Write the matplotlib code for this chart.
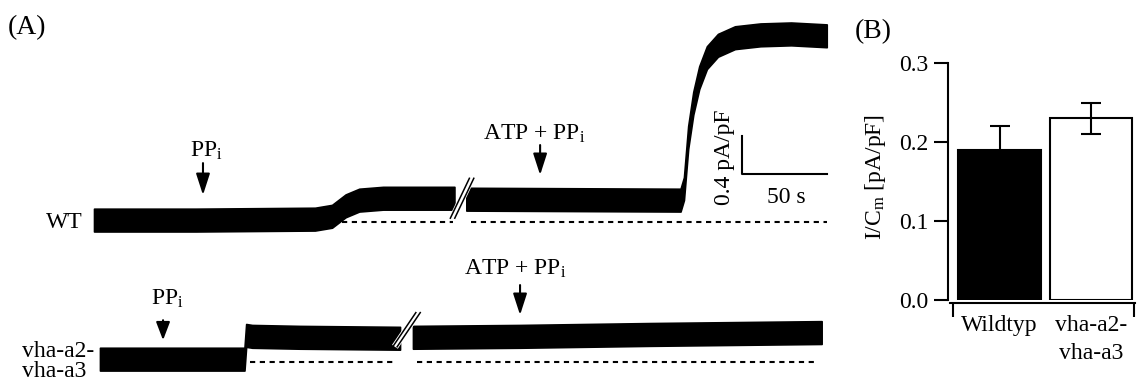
#----------------------------------------------------------------------------------------------------
# Make imports
#----------------------------------------------------------------------------------------------------
import matplotlib
matplotlib.use("Agg")
import matplotlib.pyplot as plt

plt.rcParams["font.family"] = "Liberation Serif"
plt.rcParams["mathtext.fontset"] = "custom"
plt.rcParams["mathtext.rm"] = "Liberation Serif"
plt.rcParams["mathtext.it"] = "Liberation Serif:italic"

#----------------------------------------------------------------------------------------------------
# Data (time in s, current density in pA/pF)
#----------------------------------------------------------------------------------------------------
# WT trace, before and after the break
wt_t1 = [0, 60, 130, 140, 148, 156, 170, 212]
wt_i1 = [0.02, 0.02, 0.03, 0.06, 0.17, 0.23, 0.25, 0.25]
wt_t2 = [219, 345, 347, 349.5, 352.5, 356, 360.5, 367, 377, 392, 410, 431]
wt_i2 = [0.24, 0.23, 0.35, 0.89, 1.25, 1.52, 1.73, 1.86, 1.94, 1.97, 1.98, 1.96]

# vha-a2-vha-a3 trace
mut_t1 = [3.5, 88.5, 89.5, 93, 121, 180]
mut_i1 = [0.03, 0.03, 0.28, 0.27, 0.26, 0.25]
mut_t2 = [187.6, 250.6, 327, 428]
mut_i2 = [0.26, 0.27, 0.29, 0.31]

noise = 0.12  # half width of the noise band

# zero-current dashed lines (start, end)
wt_zero = [(146, 211), (222, 431)]
mut_zero = [(92, 177), (190, 426)]

# break marks (t, I)
wt_break = (216.5, 0.25)
mut_break = (183.8, 0.34)

# application arrows: (time, label)
wt_events = [(64.1, "PP$_\\mathrm{i}$"), (262.4, "ATP + PP$_\\mathrm{i}$")]
mut_events = [(40.6, "PP$_\\mathrm{i}$"), (250.6, "ATP + PP$_\\mathrm{i}$")]

scale_t = 50
scale_i = 0.4

# panel B
groups = ["Wildtyp", "vha-a2-\nvha-a3"]
means = [0.19, 0.23]
errors = [0.03, 0.02]
bar_colors = ["black", "white"]

#----------------------------------------------------------------------------------------------------
# Figure
#----------------------------------------------------------------------------------------------------
fig = plt.figure(figsize=(11.38, 3.81), dpi=100)
fs = 17

xlim_a = (-55.3, 438.8)
ax_wt = fig.add_axes([0, 0, 840 / 1138, 1])
ax_wt.set_xlim(xlim_a)
ax_wt.set_ylim(-1.674, 2.337)
ax_wt.axis("off")

ax_mut = fig.add_axes([0, 0, 840 / 1138, 1])
ax_mut.set_xlim(xlim_a)
ax_mut.set_ylim(-0.2, 3.811)
ax_mut.axis("off")


def draw_trace(ax, t, i):
    lo = [v - noise for v in i]
    hi = [v + noise for v in i]
    ax.fill_between(t, lo, hi, color="black", lw=1.2, edgecolor="black")


def draw_break(ax, pos, dt, di):
    t0, i0 = pos
    ax.plot([t0 - dt, t0 + dt], [i0 - di, i0 + di], color="white", lw=5, solid_capstyle="butt", zorder=3)
    for off in (-1.3, 1.3):
        ax.plot([t0 - dt + off, t0 + dt + off], [i0 - di, i0 + di], color="black", lw=1.1, zorder=4)


def draw_arrow(ax, t, top, tip, head=1.3):
    ax.annotate("", xy=(t, tip), xytext=(t, top),
                arrowprops=dict(arrowstyle="-|>,head_length=%.2f,head_width=0.42" % head,
                                color="black", lw=1.5, shrinkA=0, shrinkB=0))


# WT
draw_trace(ax_wt, wt_t1, wt_i1)
draw_trace(ax_wt, wt_t2, wt_i2)
for a, b in wt_zero:
    ax_wt.plot([a, b], [0, 0], color="black", lw=1.5, dashes=(2.5, 2.2))
draw_break(ax_wt, wt_break, 5.6, 0.21)

ax_wt.text(wt_events[0][0] + 1.8, 0.684, wt_events[0][1], fontsize=fs, ha="center", va="baseline")
draw_arrow(ax_wt, wt_events[0][0], 0.62, 0.284)
ax_wt.text(wt_events[1][0] - 3.6, 0.863, wt_events[1][1], fontsize=fs, ha="center", va="baseline")
draw_arrow(ax_wt, wt_events[1][0], 0.81, 0.495)

ax_wt.text(-6.5, -0.063, "WT", fontsize=fs, ha="right", va="baseline")

# scale bar
sx, sy = 381.2, 0.505
ax_wt.plot([sx, sx, sx + scale_t], [sy + scale_i, sy, sy], color="black", lw=1.5)
ax_wt.text(sx + scale_t / 2 + 1, 0.2, "%d s" % scale_t, fontsize=fs, ha="center", va="baseline")
ax_wt.text(371, sy + 0.18, "%.1f pA/pF" % scale_i, fontsize=fs, rotation=90, ha="center", va="center")

# vha-a2-vha-a3
draw_trace(ax_mut, mut_t1, mut_i1)
draw_trace(ax_mut, mut_t2, mut_i2)
for a, b in mut_zero:
    ax_mut.plot([a, b], [0, 0], color="black", lw=1.5, dashes=(2.5, 2.2))
draw_break(ax_mut, mut_break, 6.8, 0.18)

ax_mut.text(mut_events[0][0] + 2.4, 0.6, mut_events[0][1], fontsize=fs, ha="center", va="baseline")
draw_arrow(ax_mut, mut_events[0][0], 0.44, 0.23, head=1.1)
ax_mut.text(mut_events[1][0] - 3, 0.916, mut_events[1][1], fontsize=fs, ha="center", va="baseline")
draw_arrow(ax_mut, mut_events[1][0], 0.81, 0.495)

ax_mut.text(-42.4, 0.05, "vha-a2-", fontsize=fs, ha="left", va="baseline")
ax_mut.text(-42.4, -0.155, "vha-a3", fontsize=fs, ha="left", va="baseline")

fig.text(8 / 1138, 1 - 28 / 381, "(A)", fontsize=20, ha="left", va="center")
fig.text(855 / 1138, 1 - 32 / 381, "(B)", fontsize=20, ha="left", va="center")

#----------------------------------------------------------------------------------------------------
# Panel B bar chart
#----------------------------------------------------------------------------------------------------
ax_b = fig.add_axes([948 / 1138, 81 / 381, 187 / 1138, 237 / 381])

for s in ["top", "right"]:
    ax_b.spines[s].set_visible(False)
ax_b.spines["left"].set_linewidth(1.5)
ax_b.spines["bottom"].set_linewidth(1.5)
ax_b.spines["bottom"].set_position(("outward", 2))

pos = list(range(len(groups)))
ax_b.bar(pos, means, width=0.907, color=bar_colors, edgecolor="black", linewidth=1.5, zorder=2)
ax_b.errorbar(pos, means, yerr=errors, fmt="none", ecolor="black", elinewidth=1.5,
              capsize=7, capthick=1.5, zorder=3)

ax_b.set_xlim(-0.563, 1.481)
ax_b.set_ylim(0, 0.3)
ax_b.spines["bottom"].set_bounds(-0.54, 1.481)
ax_b.set_yticks([0, 0.1, 0.2, 0.3])
ax_b.set_yticklabels(["0.0", "0.1", "0.2", "0.3"])
ax_b.set_xticks(pos)
ax_b.set_xticklabels(groups)
ax_b.set_xticks([-0.51, 1.47], minor=True)

ax_b.tick_params(axis="y", direction="out", length=10, width=1.5, pad=4, labelsize=fs)
ax_b.tick_params(axis="x", which="major", length=0, pad=9, labelsize=fs)
ax_b.tick_params(axis="x", which="minor", direction="out", length=10, width=1.5)
for lbl in ax_b.get_xticklabels():
    lbl.set_linespacing(1.4)

ax_b.text(-0.39, 0.52, "I/C$_\\mathrm{m}$ [pA/pF]", transform=ax_b.transAxes, fontsize=fs,
          rotation=90, ha="center", va="center")

fig.savefig("out.png", dpi=100)
